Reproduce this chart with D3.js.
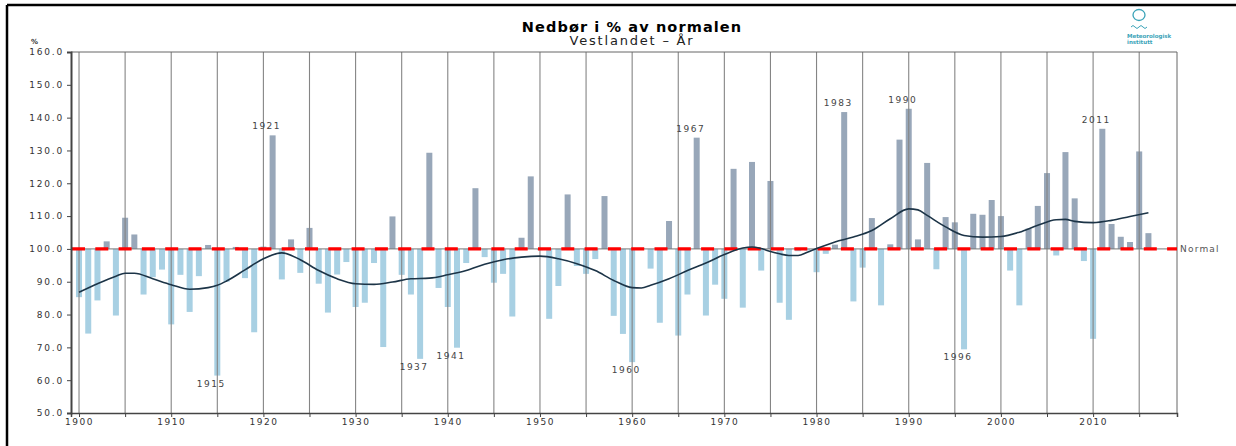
<!DOCTYPE html>
<meta charset="utf-8">
<style>
  body { margin: 0; background: #fff; }
  text { font-family: "DejaVu Sans", Verdana, sans-serif; }
</style>
<body>
<script src="https://d3js.org/d3.v7.min.js"></script>
<script>

// yearly precipitation, % of normal (Vestlandet), 1900-2016
var firstYear = 1900;
var values = [
  85.3, 74.2, 84.3, 102.3, 79.7, 109.5, 104.4, 86.1, 91.4, 93.7,   // 1900-1909
  77.0, 92.1, 80.8, 91.7, 101.2, 61.4, 90.0, 100.6, 91.1, 74.6,    // 1910-1919
  100.7, 134.6, 90.7, 102.9, 92.7, 106.4, 89.4, 80.6, 92.2, 96.0,  // 1920-1929
  82.3, 83.6, 95.7, 70.1, 109.9, 92.1, 86.1, 66.5, 129.3, 88.1,    // 1930-1939
  82.3, 69.9, 95.7, 118.5, 97.5, 89.7, 92.4, 79.4, 103.4, 122.1,   // 1940-1949
  99.6, 78.7, 88.7, 116.6, 94.8, 92.4, 96.9, 116.1, 79.6, 74.1,    // 1950-1959
  65.5, 100.3, 94.0, 77.5, 108.5, 73.6, 86.1, 133.9, 79.7, 89.1,   // 1960-1969
  84.8, 124.4, 82.1, 126.5, 93.4, 120.7, 83.6, 78.4, 99.3, 99.5,   // 1970-1979
  92.9, 98.5, 101.3, 141.7, 84.0, 94.3, 109.4, 82.8, 101.4, 133.3, // 1980-1989
  142.7, 102.9, 126.2, 93.8, 109.7, 108.1, 69.4, 110.7, 110.4, 114.9, // 1990-1999
  110.0, 93.4, 82.8, 106.2, 113.1, 123.1, 98.0, 129.5, 115.4, 96.3,   // 2000-2009
  72.6, 136.6, 107.6, 103.7, 102.1, 129.7, 104.8                      // 2010-2016
];

// smoothed curve
var curveYears = [1900, 1902, 1904, 1905, 1906, 1908, 1910, 1912, 1914, 1915, 1916, 1918,
  1920, 1922, 1924, 1926, 1928, 1930, 1932, 1934, 1936, 1938, 1940, 1942, 1944, 1946,
  1948, 1950, 1952, 1954, 1956, 1958, 1960, 1961, 1962, 1964, 1966, 1968, 1970, 1972,
  1973, 1974, 1975, 1976, 1977, 1978, 1979, 1980, 1982, 1984, 1986, 1988, 1990, 1991,
  1992, 1994, 1996, 1998, 2000, 2002, 2004, 2006, 2007, 2008, 2010, 2012, 2014, 2016];
var curveValues = [86.8, 89.4, 91.7, 92.6, 92.6, 90.9, 89.1, 87.7, 88.2, 88.9, 90.2, 93.6,
  97.0, 98.8, 96.7, 93.4, 90.9, 89.4, 89.2, 89.9, 90.9, 91.1, 92.1, 93.4, 95.3, 96.7,
  97.5, 97.8, 97.0, 95.5, 93.4, 90.4, 88.2, 88.1, 88.9, 90.9, 93.4, 95.7, 98.3, 100.3,
  100.6, 100.1, 99.2, 98.5, 98.0, 98.0, 99.0, 100.1, 102.1, 103.6, 105.6, 109.2, 112.2, 111.9,
  110.2, 106.7, 104.1, 103.6, 103.8, 105.1, 107.2, 108.9, 109.0, 108.4, 108.0, 108.7, 109.9, 111.0];

var labelYears = [1915, 1921, 1937, 1941, 1960, 1967, 1983, 1990, 1996, 2011];
var yTicks = [50, 60, 70, 80, 90, 100, 110, 120, 130, 140, 150, 160];

var data = values.map(function(v, i) { return {year: firstYear + i, value: v}; });

var margin = {top: 52, left: 71},
    width = 1106,
    height = 361;

var svg = d3.select("body").append("svg")
    .attr("width", 1236)
    .attr("height", 446);

// outer frame (top and left edge)
svg.append("line").attr("x1", 7).attr("x2", 1236).attr("y1", 5).attr("y2", 5)
    .attr("stroke", "#000").attr("stroke-width", 2.5);
svg.append("line").attr("x1", 7).attr("x2", 7).attr("y1", 5).attr("y2", 446)
    .attr("stroke", "#000").attr("stroke-width", 2.5);

// title
svg.append("text").attr("x", 632).attr("y", 32).attr("text-anchor", "middle")
    .style("font-size", "14.5px").style("font-weight", "bold").style("letter-spacing", "1.1px")
    .text("Nedbør i % av normalen");
svg.append("text").attr("x", 632).attr("y", 45).attr("text-anchor", "middle")
    .style("font-size", "13px").style("letter-spacing", "1.8px").attr("fill", "#222")
    .text("Vestlandet – År");

// logo
var logo = svg.append("g").attr("fill", "none").attr("stroke", "#3aa3b8");
logo.append("ellipse").attr("cx", 1139).attr("cy", 15).attr("rx", 6).attr("ry", 5.5).attr("stroke-width", 1.3);
logo.append("path").attr("d", "M1131,27 q2,-3 4,0 t4,0 t4,0 t4,0").attr("stroke-width", 1);
svg.append("text").attr("x", 1127).attr("y", 38).attr("fill", "#3aa3b8")
    .style("font-size", "5.5px").style("font-weight", "bold").text("Meteorologisk");
svg.append("text").attr("x", 1127).attr("y", 44).attr("fill", "#3aa3b8")
    .style("font-size", "5.5px").style("font-weight", "bold").text("institutt");

var g = svg.append("g").attr("transform", "translate(" + margin.left + "," + margin.top + ")");

var x = d3.scaleLinear().domain([1899.13, 2019.1]).range([0, width]);
var y = d3.scaleLinear().domain([50, 160]).range([height, 0]);

var barW = 6;

// bars
g.selectAll(".bar")
    .data(data)
  .enter().append("rect")
    .attr("class", "bar")
    .attr("x", function(d) { return x(d.year) - barW / 2; })
    .attr("width", barW)
    .attr("y", function(d) { return y(Math.max(d.value, 100)); })
    .attr("height", function(d) { return Math.abs(y(d.value) - y(100)); })
    .attr("fill", function(d) { return d.value >= 100 ? "#98a7b9" : "#a8d0e3"; });

// vertical grid every 5 years
var gridYears = d3.range(1900, 2016, 5);
g.selectAll(".grid")
    .data(gridYears)
  .enter().append("line")
    .attr("x1", function(d) { return x(d); })
    .attr("x2", function(d) { return x(d); })
    .attr("y1", 0).attr("y2", height)
    .attr("stroke", "#858585").attr("stroke-width", 1.1);

// plot frame
g.append("line").attr("x1", 0).attr("x2", width).attr("y1", 0).attr("y2", 0).attr("stroke", "#666");
g.append("line").attr("x1", width).attr("x2", width).attr("y1", 0).attr("y2", height).attr("stroke", "#666");

// normal line
g.append("line").attr("x1", 0).attr("x2", width).attr("y1", y(100)).attr("y2", y(100))
    .attr("stroke", "#777").attr("stroke-width", 1);
g.append("line").attr("x1", 1).attr("x2", width).attr("y1", y(100)).attr("y2", y(100))
    .attr("stroke", "#ff0000").attr("stroke-width", 3.2).attr("stroke-dasharray", "13,10.3");
g.append("text").attr("x", width + 3).attr("y", y(100) + 3)
    .style("font-size", "9px").style("letter-spacing", "1.2px").attr("fill", "#555")
    .text("Normal");

// smoothed curve
var curve = curveYears.map(function(yr, i) { return [yr, curveValues[i]]; });
g.append("path")
    .datum(curve)
    .attr("fill", "none")
    .attr("stroke", "#1c3447")
    .attr("stroke-width", 1.6)
    .attr("d", d3.line()
      .x(function(d) { return x(d[0]); })
      .y(function(d) { return y(d[1]); })
      .curve(d3.curveMonotoneX));

// year labels for extremes
g.selectAll(".ylab")
    .data(data.filter(function(d) { return labelYears.indexOf(d.year) >= 0; }))
  .enter().append("text")
    .attr("x", function(d) { return x(d.year) - 6; })
    .attr("y", function(d) { return d.value >= 100 ? y(d.value) - 6 : y(d.value) + 11; })
    .attr("text-anchor", "middle")
    .style("font-size", "9px").style("letter-spacing", "1.5px").attr("fill", "#444")
    .text(function(d) { return d.year; });

// y axis
var yAxis = g.append("g")
    .call(d3.axisLeft(y).tickValues(yTicks).tickFormat(d3.format(".1f")).tickSize(4).tickPadding(3));
yAxis.select(".domain").attr("stroke", "#444").attr("stroke-width", 2);
yAxis.selectAll(".tick line").attr("stroke", "#444");
yAxis.selectAll("text").style("font-size", "9px").style("letter-spacing", "1.8px")
    .attr("fill", "#333").attr("font-family", null);

svg.append("text").attr("x", 31).attr("y", 44)
    .style("font-size", "7px").style("font-weight", "bold").attr("fill", "#333").text("%");

// x axis
var xAxis = g.append("g")
    .attr("transform", "translate(0," + height + ")")
    .call(d3.axisBottom(x).tickValues(gridYears)
      .tickFormat(function(d) { return d % 10 === 0 ? d : ""; })
      .tickSize(4).tickPadding(2));
xAxis.select(".domain").attr("stroke", "#444").attr("stroke-width", 1.5);
xAxis.selectAll(".tick line").attr("stroke", "#444");
xAxis.selectAll("text").style("font-size", "9px").style("letter-spacing", "1.5px")
    .attr("fill", "#333").attr("font-family", null);

</script>
</body>
